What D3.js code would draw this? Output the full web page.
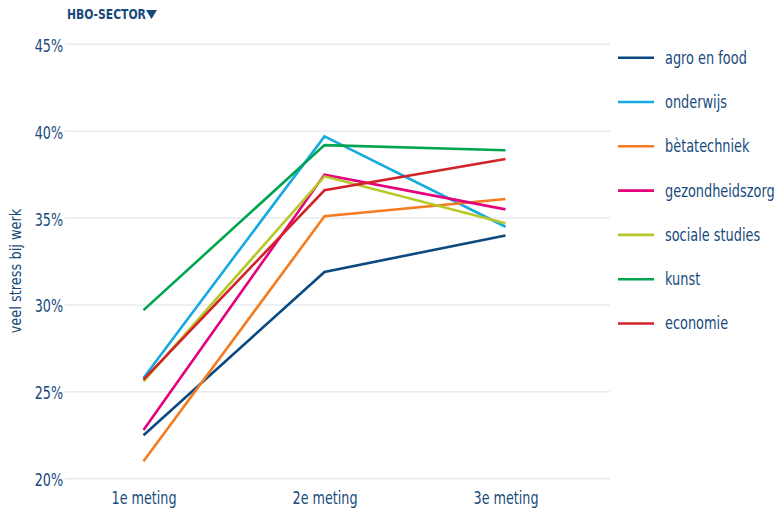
<!DOCTYPE html>
<html>
<head>
<meta charset="utf-8">
<script src="https://cdn.jsdelivr.net/npm/d3@7"></script>
<style>
  html, body { margin: 0; padding: 0; background: #fff; }
  svg text { font-family: "DejaVu Sans", sans-serif; fill: #174a7c; }
</style>
</head>
<body>
<svg id="chart" width="778" height="514"></svg>
<script>
const categories = ["1e meting", "2e meting", "3e meting"];
const seriesNames = ["agro en food", "onderwijs", "bètatechniek", "gezondheidszorg", "sociale studies", "kunst", "economie"];
const agro = [22.5, 31.9, 34.0];
const onderwijs = [25.8, 39.7, 34.5];
const beta = [21.0, 35.1, 36.1];
const gezond = [22.8, 37.5, 35.5];
const sociale = [25.6, 37.4, 34.7];
const kunst = [29.7, 39.2, 38.9];
const economie = [25.7, 36.6, 38.4];
const yTicks = [20, 25, 30, 35, 40, 45];
const colors = ["#0b4a80", "#17a9e1", "#f47b20", "#e5007d", "#b9c726", "#00a550", "#d2232a"];

const seriesValues = [agro, onderwijs, beta, gezond, sociale, kunst, economie];
const series = seriesNames.map((n, i) => ({ name: n, values: seriesValues[i], color: colors[i] }));

const svg = d3.select("#chart");
const x = d3.scalePoint().domain(categories).range([53, 596]).padding(0.5);
const y = d3.scaleLinear().domain([20, 45]).range([478.7, 44.3]);

// gridlines
svg.append("g").selectAll("line").data(yTicks).join("line")
  .attr("x1", 65).attr("x2", 610)
  .attr("y1", d => y(d)).attr("y2", d => y(d))
  .attr("stroke", "#e6ebf1").attr("stroke-width", 1.5);

// y axis labels
const yAxis = d3.axisLeft(y).tickValues(yTicks).tickFormat(d => d + "%").tickSize(0).tickPadding(0);
const gy = svg.append("g").attr("transform", "translate(63,1.5)").call(yAxis);
gy.select(".domain").remove();
gy.selectAll("text").style("font-size", "17px").attr("fill", "#174a7c")
  .attr("transform", "scale(0.75,1)");

// x axis labels
const xAxis = d3.axisBottom(x).tickSize(0).tickPadding(0);
const gx = svg.append("g").attr("transform", "translate(0,492)").call(xAxis);
gx.select(".domain").remove();
gx.selectAll("text").style("font-size", "17px").attr("fill", "#174a7c")
  .attr("transform", "scale(0.75,1)");

// y axis title
svg.append("text")
  .attr("transform", "translate(21,271) rotate(-90) scale(0.81,1)")
  .attr("text-anchor", "middle")
  .style("font-size", "16px")
  .text("veel stress bij werk");

// title
svg.append("text")
  .attr("transform", "translate(67,19) scale(0.77,1)")
  .style("font-size", "14px").style("font-weight", "bold")
  .text("HBO-SECTOR");
svg.append("path")
  .attr("d", "M146,10 L157,10 L151.5,19 Z")
  .attr("fill", "#174a7c");

// lines
const line = d3.line().x((d, i) => x(categories[i])).y(d => y(d));
svg.append("g").selectAll("path").data(series).join("path")
  .attr("d", d => line(d.values))
  .attr("fill", "none")
  .attr("stroke", d => d.color)
  .attr("stroke-width", 2.6)
  .attr("stroke-linejoin", "miter");

// legend
const lg = svg.append("g").selectAll("g").data(series).join("g")
  .attr("transform", (d, i) => `translate(0,${57.7 + i * 44.3})`);
lg.append("line").attr("x1", 618).attr("x2", 654).attr("y1", 0).attr("y2", 0)
  .attr("stroke", d => d.color).attr("stroke-width", 2.6);
lg.append("text").attr("transform", "translate(665,0) scale(0.76,1)").attr("dy", "0.35em")
  .style("font-size", "17px").text(d => d.name);
</script>
</body>
</html>
